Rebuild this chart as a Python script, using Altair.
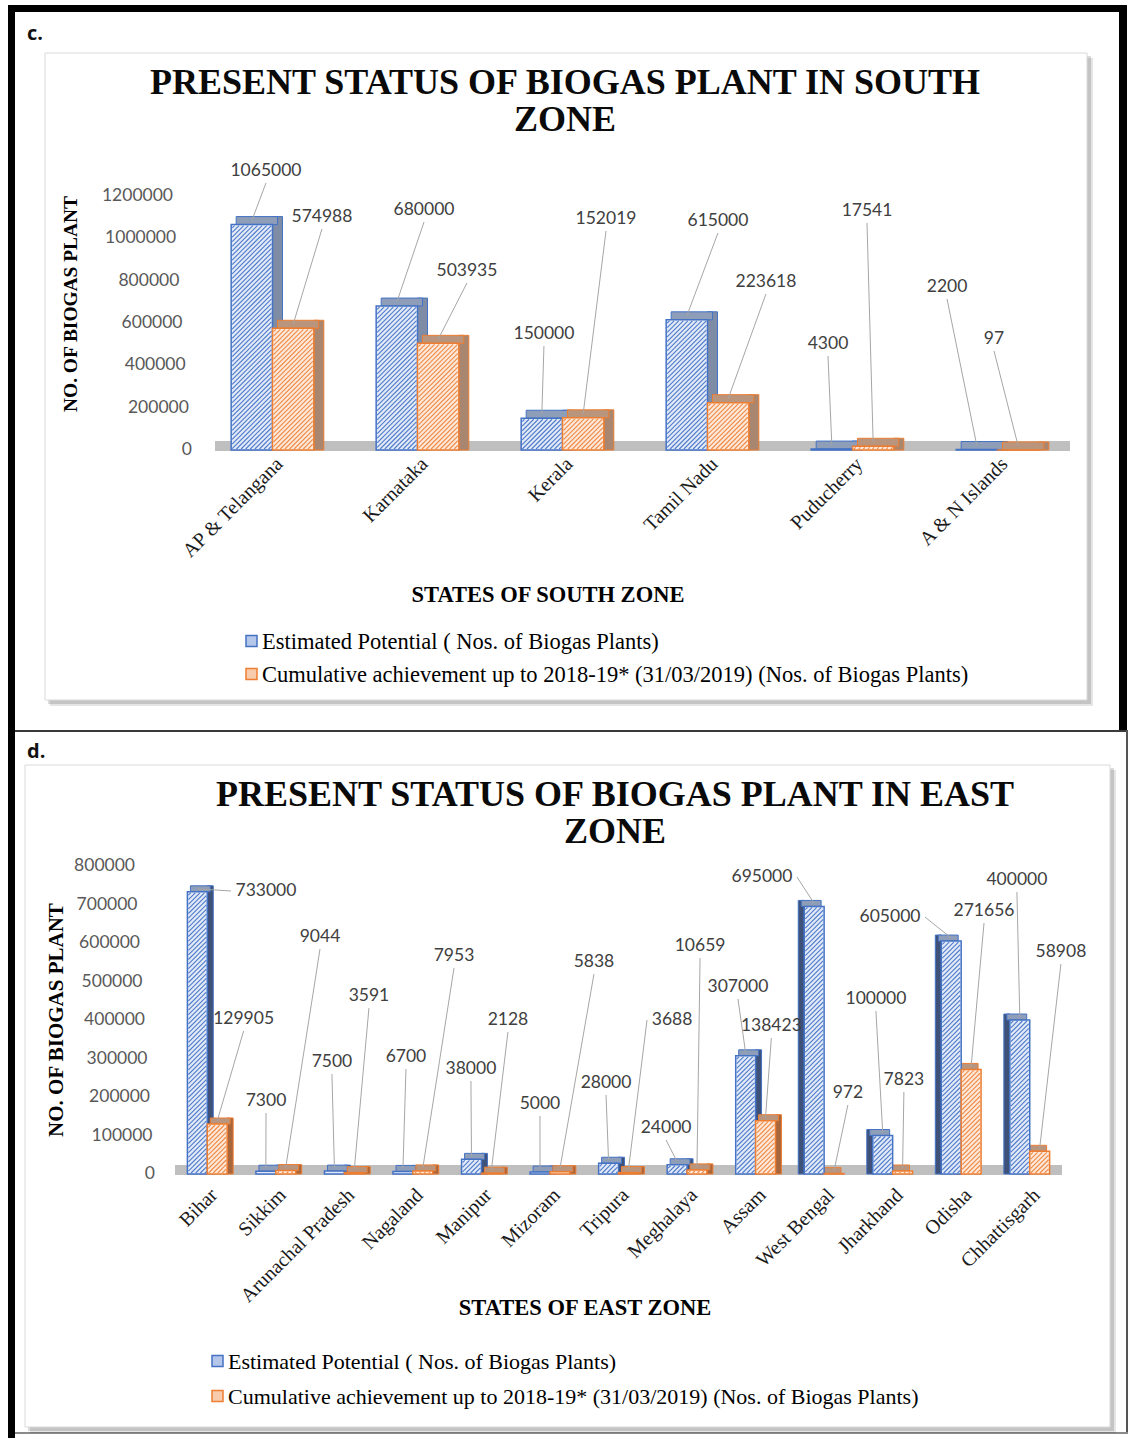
import altair as alt
import pandas as pd

SERIES = [
    "Estimated Potential ( Nos. of Biogas Plants)",
    "Cumulative achievement up to 2018-19* (31/03/2019) (Nos. of Biogas Plants)",
]

# ---- South zone -------------------------------------------------------
south_states = ["AP & Telangana", "Karnataka", "Kerala", "Tamil Nadu", "Puducherry", "A & N Islands"]
south_potential = [1065000, 680000, 150000, 615000, 4300, 2200]
south_achieved = [574988, 503935, 152019, 223618, 17541, 97]

# callout placement: (offset from the category centre in category units,
#                     label height in plant counts, side the leader leaves from)
south_potential_callouts = [
    (-0.045, 1318100), (0.045, 1133900), (-0.128, 548000),
    (0.072, 1081900), (-0.169, 500800), (-0.348, 770100),
]
south_achieved_callouts = [
    (0.341, 1100800), (0.341, 845700), (0.300, 1091300),
    (0.403, 793700), (0.100, 1129100), (-0.024, 524400),
]

# ---- East zone --------------------------------------------------------
east_states = ["Bihar", "Sikkim", "Arunachal Pradesh", "Nagaland", "Manipur", "Mizoram",
               "Tripura", "Meghalaya", "Assam", "West Bengal", "Jharkhand", "Odisha", "Chhattisgarh"]
east_potential = [733000, 7300, 7500, 6700, 38000, 5000, 28000, 24000, 307000, 695000, 100000, 605000, 400000]
east_achieved = [129905, 9044, 3591, 7953, 2128, 5838, 3688, 10659, 138423, 972, 7823, 271656, 58908]

east_potential_callouts = [
    (0.856, 735100, "left"), (-0.143, 189600), (-0.181, 290900), (-0.101, 303900),
    (-0.153, 272700), (-0.146, 181800), (-0.182, 236400), (-0.306, 119500),
    (-0.257, 485700), (-0.907, 771400, "right"), (-0.244, 454500),
    (-1.039, 667500, "right"), (-0.187, 763600),
]
east_achieved_callouts = [
    (0.530, 402600), (0.645, 615600), (0.359, 462300), (0.600, 566200),
    (0.387, 400000), (0.642, 550600), (0.781, 400000, "left"), (0.190, 592200),
    (0.230, 384400), (0.347, 210400), (0.164, 244100), (0.333, 683100), (0.455, 576600),
]

CANVAS_W, CANVAS_H = 1129, 1438
BLUE, ORANGE = "#4472C4", "#ED7D31"
BLUE_FACE, ORANGE_FACE = "#E2EAF7", "#FDE8DA"
BLUE_SWATCH, ORANGE_SWATCH = "#B4C6EA", "#F8CBAD"
SERIF = "Liberation Serif"
NUM_FONT = "Lato"
HATCH_GAP = 4.6   # pixel spacing of the diagonal hatching on the bar faces

ONE = alt.Data(values=[{"k": 0}])


def rect(x1, y1, x2, y2, **style):
    return alt.Chart(ONE).mark_rect(**style).encode(
        x=alt.value(x1), x2=alt.value(x2), y=alt.value(y1), y2=alt.value(y2))


def text(x, y, s, **style):
    return alt.Chart(ONE).mark_text(**style).encode(
        x=alt.value(x), y=alt.value(y), text=alt.value(s))


def panel(tag, title, x_title, y_title, states, potential, achieved,
          pot_calls, ach_calls, cfg):
    xl, xr = cfg["x_px"]          # plot left / right edge
    yb, yt = cfg["y_px"]          # plot bottom / top edge
    ymax = cfg["ymax"]
    n = len(states)
    ux = (xr - xl) / n            # pixels per category
    uy = (yb - yt) / ymax         # pixels per plant
    bw = cfg["bar"]               # bar width, category units
    ddx, ddy = cfg["depth"]

    def to_px(cx):
        return xl + (cx + 0.5) * ux

    def to_cat(px):
        return (px - xl) / ux - 0.5

    rows, hatch = [], []
    for i, st in enumerate(states):
        facing = 1 if i < cfg["vanish"] else -1
        for s, key, vals, calls in ((0, "est", potential, pot_calls),
                                    (1, "cum", achieved, ach_calls)):
            v = vals[i]
            call = calls[i]
            off, ly = call[0], call[1]
            side = call[2] if len(call) > 2 else "below"
            x0 = i - bw if key == "est" else i
            x1 = x0 + bw
            txt = str(v)
            lx = i + off
            half = (len(txt) * 5 + 5) / ux
            if side == "left":
                lead_x, lead_y = lx - half, ly
            elif side == "right":
                lead_x, lead_y = lx + half, ly
            else:
                lead_x, lead_y = lx, ly - 12 / uy
            if facing > 0:
                sx0, sx1 = x1, x1 + ddx / ux
            else:
                sx0, sx1 = x0 - ddx / ux, x0
            shift = facing * ddx / 2 / ux
            rows.append(dict(state=st, key=key, series=SERIES[s], amount=v,
                             x0=x0, x1=x1, xc=(x0 + x1) / 2,
                             sx0=sx0, sx1=sx1, tx0=x0 + shift, tx1=x1 + shift,
                             label_x=lx, label_y=ly, lead_x=lead_x, lead_y=lead_y,
                             label=txt))

            # "///" hatching clipped to the bar's front face
            a, b = to_px(x0) + 1, to_px(x1) - 1
            top, bot = yb - v * uy + 1, yb - 1
            if bot - top > 1:
                c = a + top + HATCH_GAP / 2
                while c < b + bot:
                    xa, xb = max(a, c - bot), min(b, c - top)
                    if xb - xa > 0.4:
                        hatch.append(dict(key=key,
                                          hx0=to_cat(xa), hy0=(yb - (c - xa)) / uy,
                                          hx1=to_cat(xb), hy1=(yb - (c - xb)) / uy))
                    c += HATCH_GAP
    df = pd.DataFrame(rows)
    hdf = pd.DataFrame(hatch)

    xs = alt.Scale(domain=[-0.5, n - 0.5], range=[xl, xr], nice=False, zero=False)
    ys = alt.Scale(domain=[0, ymax], range=[yb, yt], nice=False)

    deco = [rect(*r[:4], **r[4]) for r in cfg["rects"]]

    bx0, by0, bx1, by1 = cfg["box"]
    deco += [
        rect(bx0 + 5, by0 + 5, bx1 + 6, by1 + 6, color="#000000", opacity=0.10),
        rect(bx0 + 3, by0 + 3, bx1 + 4, by1 + 4, color="#000000", opacity=0.14),
        rect(bx0, by0, bx1, by1, fill="#FFFFFF", stroke="#D9D9D9", strokeWidth=1),
    ]

    tx, ty = cfg["tag_at"]
    deco.append(text(tx, ty, tag, font="Open Sans", fontSize=20, fontWeight="bold",
                     align="left", baseline="alphabetic", color="#111111"))

    cx, cy = cfg["title_at"]
    deco.append(text(cx, cy, title, font=SERIF, fontSize=36, fontWeight="bold",
                     align="center", baseline="alphabetic", lineBreak="\n",
                     lineHeight=37, color="#0A0A0A"))

    yx, yy = cfg["ytitle_at"]
    deco.append(text(yx, yy, y_title, font=SERIF, fontSize=cfg["ytitle_size"],
                     fontWeight="bold", angle=270, align="center", baseline="middle",
                     color="#000000"))
    xx, xy = cfg["xtitle_at"]
    deco.append(text(xx, xy, x_title, font=SERIF, fontSize=22.5, fontWeight="bold",
                     align="center", baseline="alphabetic", color="#000000"))

    # legend: swatch + label for each series
    lx0, ly0 = cfg["legend_at"]
    for k, (name, face, edge) in enumerate(zip(SERIES, (BLUE_SWATCH, ORANGE_SWATCH), (BLUE, ORANGE))):
        yc = ly0 + cfg["legend_gap"] * k
        deco.append(rect(lx0, yc - 5.5, lx0 + 11, yc + 5.5, fill=face, stroke=edge,
                         strokeWidth=1.5))
        deco.append(text(lx0 + 16, yc + 1, name, font=SERIF, fontSize=cfg["legend_size"],
                         align="left", baseline="middle", color="#000000"))

    fx0, fx1 = cfg["floor"]
    deco.append(rect(fx0, yb - 9, fx1, yb + 1, color="#BFBFBF"))

    # category labels along the floor, slanted as in a 3-D view
    cats = pd.DataFrame({"idx": list(range(n)), "state": states})
    cat_labels = alt.Chart(cats).mark_text(
        font=SERIF, fontSize=20, color="#1A1A1A", angle=315, align="right",
        baseline="top", dx=cfg["xlabel_dx"] * 0.7071, dy=-cfg["xlabel_dx"] * 0.7071,
    ).encode(
        x=alt.X("idx:Q", scale=xs, axis=None),
        y=alt.value(yb + cfg["xlabel_pad"]),
        text="state:N",
    )

    # value ticks up the left side, drifting left with height (perspective)
    pad0, skew = cfg["ylabel_pad"]
    ticks = pd.DataFrame({"tick": list(range(0, ymax + 1, cfg["ystep"]))})
    tick_labels = alt.Chart(ticks).transform_calculate(
        tx=f"-0.5 - ({pad0} + {skew} * datum.tick / {ymax}) / {ux}",
        tl="format(datum.tick, 'd')",
    ).mark_text(font=NUM_FONT, fontSize=17.5, color="#595959", align="right",
                baseline="middle").encode(
        x=alt.X("tx:Q", scale=xs, axis=None),
        y=alt.Y("tick:Q", scale=ys, axis=None),
        text="tl:N",
    )

    base = alt.Chart(df)
    is_est = "datum.key == 'est'"

    sides = base.mark_rect(strokeWidth=1, yOffset=-ddy).encode(
        x=alt.X("sx0:Q", scale=xs, axis=None), x2="sx1:Q",
        y=alt.Y("amount:Q", scale=ys, axis=None), y2=alt.Y2(datum=0),
        fill=alt.condition(is_est, alt.value(cfg["side_blue"]), alt.value(cfg["side_orange"])),
        stroke=alt.condition(is_est, alt.value(BLUE), alt.value(ORANGE)),
    )
    tops = base.mark_rect(strokeWidth=1, y2Offset=-ddy).encode(
        x=alt.X("tx0:Q", scale=xs, axis=None), x2="tx1:Q",
        y=alt.Y("amount:Q", scale=ys, axis=None), y2="amount:Q",
        fill=alt.condition(is_est, alt.value("#8E9DB8"), alt.value("#B9957D")),
        stroke=alt.condition(is_est, alt.value(BLUE), alt.value(ORANGE)),
    )
    fronts = base.mark_rect(strokeWidth=1.5).encode(
        x=alt.X("x0:Q", scale=xs, axis=None), x2="x1:Q",
        y=alt.Y("amount:Q", scale=ys, axis=None), y2=alt.Y2(datum=0),
        fill=alt.condition(is_est, alt.value(BLUE_FACE), alt.value(ORANGE_FACE)),
        stroke=alt.condition(is_est, alt.value(BLUE), alt.value(ORANGE)),
    )
    stripes = alt.Chart(hdf).mark_rule(strokeWidth=1.1).encode(
        x=alt.X("hx0:Q", scale=xs, axis=None), x2="hx1:Q",
        y=alt.Y("hy0:Q", scale=ys, axis=None), y2="hy1:Q",
        color=alt.condition(is_est, alt.value("#4F7BCB"), alt.value("#EF8A45")),
    )
    leaders = base.mark_rule(color="#A6A6A6", strokeWidth=1, y2Offset=-ddy / 2).encode(
        x=alt.X("lead_x:Q", scale=xs, axis=None), x2="xc:Q",
        y=alt.Y("lead_y:Q", scale=ys, axis=None), y2="amount:Q",
    )
    labels = base.mark_text(font=NUM_FONT, fontSize=17.5, color="#404040",
                            align="center", baseline="middle").encode(
        x=alt.X("label_x:Q", scale=xs, axis=None),
        y=alt.Y("label_y:Q", scale=ys, axis=None),
        text="label:N",
    )

    return alt.layer(*deco, cat_labels, tick_labels, sides, tops, fronts, stripes,
                     leaders, labels)


south = panel(
    "c.", "PRESENT STATUS OF BIOGAS PLANT IN SOUTH\nZONE",
    "STATES OF SOUTH ZONE", "NO. OF BIOGAS PLANT",
    south_states, south_potential, south_achieved,
    south_potential_callouts, south_achieved_callouts,
    dict(x_px=(200, 1070), y_px=(450, 196), ymax=1200000, ystep=200000,
         bar=0.285, depth=(10, 8), vanish=99,
         side_blue="#7E8CA6", side_orange="#A8866F",
         rects=[
             (8, 5, 1127, 12, dict(color="#000000")),
             (8, 5, 15, 730, dict(color="#000000")),
             (1119, 5, 1127, 730, dict(color="#000000")),
         ],
         box=(45, 53, 1087, 700), tag_at=(27, 40), title_at=(565, 94),
         ytitle_at=(71, 304), ytitle_size=19.4, xtitle_at=(548, 602),
         floor=(215, 1070), legend_at=(246, 641), legend_size=22.5, legend_gap=33,
         xlabel_pad=18, xlabel_dx=14, ylabel_pad=(8, 19)),
)

east = panel(
    "d.", "PRESENT STATUS OF BIOGAS PLANT IN EAST\nZONE",
    "STATES OF EAST ZONE", "NO. OF BIOGAS PLANT",
    east_states, east_potential, east_achieved,
    east_potential_callouts, east_achieved_callouts,
    dict(x_px=(173, 1064), y_px=(1174, 866), ymax=800000, ystep=100000,
         bar=0.29, depth=(6, 6), vanish=8.5,
         side_blue="#3E5179", side_orange="#A8663C",
         rects=[
             (15, 730, 1127, 732, dict(color="#3A3A3A")),
             (8, 730, 15, 1438, dict(color="#000000")),
             (1126, 730, 1128, 1434, dict(color="#555555")),
             (15, 1432, 1128, 1434, dict(color="#8A8A8A")),
         ],
         box=(25, 765, 1110, 1427), tag_at=(27, 758), title_at=(615, 806),
         ytitle_at=(57, 1020), ytitle_size=21, xtitle_at=(585, 1315),
         floor=(175, 1062), legend_at=(212, 1361), legend_size=22, legend_gap=35,
         xlabel_pad=16, xlabel_dx=5, ylabel_pad=(18, 20)),
)

chart = (
    alt.layer(south, east)
    .resolve_scale(x="independent", y="independent")
    .properties(width=CANVAS_W, height=CANVAS_H, padding=0,
                autosize=alt.AutoSizeParams(type="none"), background="#FFFFFF")
    .configure_view(stroke=None)
)

chart.save("out.html", embed_options={"renderer": "svg", "actions": False})
